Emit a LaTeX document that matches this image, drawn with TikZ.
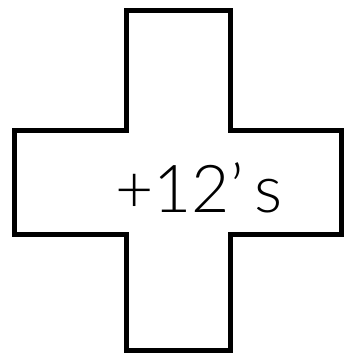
\documentclass[tikz,border=0pt]{standalone}
\usepackage{fontspec}
\setmainfont{Lato}[UprightFont={* Light}]
\usepackage{tikz}
\usetikzlibrary{positioning}
\begin{document}
\begin{tikzpicture}[x=1pt,y=1pt,
  crossline/.style={draw=black,line width=5pt,line join=miter,fill=white},
  lbl/.style={font=\fontsize{66}{70}\selectfont,inner sep=0pt}]
  \useasboundingbox (0,0) rectangle (345,360);
  % the plus shape
  \draw[crossline] (127,350) -- (231,350) -- (231,230) -- (342,230) -- (342,126)
    -- (231,126) -- (231,10) -- (127,10) -- (127,126) -- (15,126) -- (15,230)
    -- (127,230) -- cycle;
  \node[lbl,anchor=base west] (txt) at (115,148) {+12'\,s};
\end{tikzpicture}
\end{document}
